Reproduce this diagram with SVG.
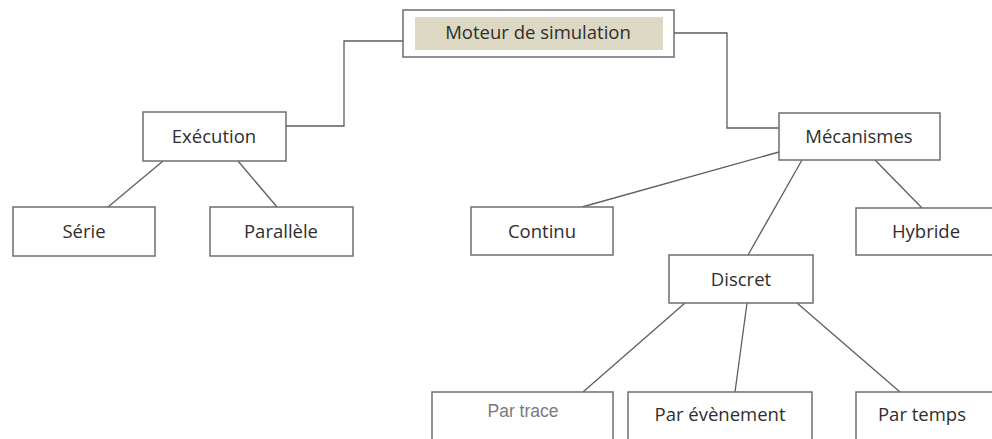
<svg xmlns="http://www.w3.org/2000/svg" width="992" height="439" viewBox="0 0 992 439">
  <style>
    .box { fill: #ffffff; stroke: #6e6e6e; stroke-width: 1.5; }
    .lbl { font-family: "Open Sans", "Liberation Sans", sans-serif; font-size: 18.5px; fill: #2e2e2e; text-anchor: middle; }
    .thin { font-family: "Liberation Sans", Arial, sans-serif; font-size: 17.5px; fill: #7a7a7a; text-anchor: middle; }
    .link { fill: none; stroke: #5e5e5e; stroke-width: 1.3; }
  </style>
  <rect x="0" y="0" width="992" height="439" fill="#ffffff"/>

  <!-- connectors -->
  <g id="connectors">
    <polyline class="link" points="403,41 344,41 344,126 286,126"/>
    <polyline class="link" points="674,33 727,33 727,128 779,128"/>
    <line class="link" x1="163" y1="161" x2="108" y2="207"/>
    <line class="link" x1="238" y1="161" x2="277" y2="207"/>
    <line class="link" x1="779" y1="152" x2="582" y2="207"/>
    <line class="link" x1="802" y1="160" x2="748" y2="255"/>
    <line class="link" x1="875" y1="160" x2="922" y2="208"/>
    <line class="link" x1="685" y1="303" x2="583" y2="392"/>
    <line class="link" x1="747" y1="303" x2="735" y2="392"/>
    <line class="link" x1="797" y1="303" x2="900" y2="392"/>
  </g>

  <!-- root -->
  <g id="moteur">
    <rect class="box" x="403" y="10" width="271" height="47"/>
    <rect x="415" y="17" width="248" height="33" fill="#ddd8c3"/>
    <text class="lbl" x="538" y="39">Moteur de simulation</text>
  </g>

  <g id="execution">
    <rect class="box" x="143" y="112" width="143" height="49"/>
    <text class="lbl" x="214" y="143">Exécution</text>
  </g>

  <g id="serie">
    <rect class="box" x="13" y="207" width="142" height="49"/>
    <text class="lbl" x="84" y="238">Série</text>
  </g>

  <g id="parallele">
    <rect class="box" x="210" y="207" width="143" height="49"/>
    <text class="lbl" x="281" y="238">Parallèle</text>
  </g>

  <g id="mecanismes">
    <rect class="box" x="779" y="113" width="161" height="47"/>
    <text class="lbl" x="859" y="143">Mécanismes</text>
  </g>

  <g id="continu">
    <rect class="box" x="471" y="207" width="142" height="48"/>
    <text class="lbl" x="542" y="238">Continu</text>
  </g>

  <g id="hybride">
    <rect class="box" x="856" y="208" width="140" height="47"/>
    <text class="lbl" x="926" y="238">Hybride</text>
  </g>

  <g id="discret">
    <rect class="box" x="669" y="255" width="144" height="48"/>
    <text class="lbl" x="741" y="286">Discret</text>
  </g>

  <g id="par-trace">
    <rect class="box" x="432" y="392" width="181" height="52"/>
    <text class="thin" x="523" y="417">Par trace</text>
  </g>

  <g id="par-evenement">
    <rect class="box" x="628" y="392" width="184" height="52"/>
    <text class="lbl" x="720" y="421">Par évènement</text>
  </g>

  <g id="par-temps">
    <rect class="box" x="856" y="392" width="140" height="52"/>
    <text class="lbl" x="922" y="421">Par temps</text>
  </g>
</svg>
